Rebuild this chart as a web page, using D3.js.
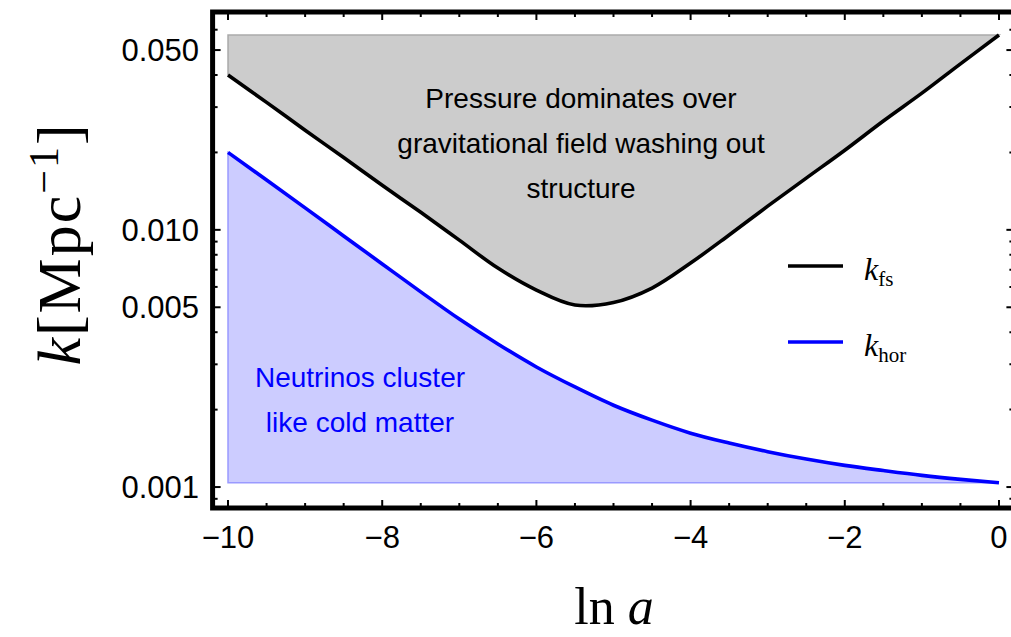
<!DOCTYPE html>
<html>
<head>
<meta charset="utf-8">
<script src="https://cdn.jsdelivr.net/npm/d3@7"></script>
<style>
  body { margin: 0; background: #fff; }
  svg { display: block; }
  .sans { font-family: "Liberation Sans", Arial, sans-serif; }
  .serif { font-family: "Liberation Serif", "DejaVu Serif", serif; }
</style>
</head>
<body>
<div id="chart"></div>
<script>
// donnees
const lnA  = [-10, -9.5, -9, -8.5, -8, -7.5, -7, -6.5, -6, -5.5, -5, -4.5, -4, -3.5, -3, -2.5, -2, -1.5, -1, -0.5, 0];
const kFs  = [0.0400, 0.0313, 0.0244, 0.0191, 0.0149, 0.0117, 0.00912, 0.00710, 0.00583, 0.00510, 0.00522, 0.00594, 0.00743, 0.00955, 0.01236, 0.01589, 0.0204, 0.0265, 0.0340, 0.0442, 0.0572];
const kHor = [0.0200, 0.01562, 0.01217, 0.00947, 0.00737, 0.00574, 0.00450, 0.00360, 0.00293, 0.00245, 0.00208, 0.00182, 0.00162, 0.001483, 0.001373, 0.001285, 0.001214, 0.001159, 0.001110, 0.001071, 0.001039];

const xTicks = [-10, -8, -6, -4, -2, 0];
const xTickLabels = ["\u221210", "\u22128", "\u22126", "\u22124", "\u22122", "0"];
const xMinor = [-9.5, -9, -8.5, -7.5, -7, -6.5, -5.5, -5, -4.5, -3.5, -3, -2.5, -1.5, -1, -0.5];
const yTicks = [0.001, 0.005, 0.01, 0.05];
const yTickLabels = ["0.001", "0.005", "0.010", "0.050"];
const yMinor = [0.0009, 0.002, 0.003, 0.004, 0.006, 0.007, 0.008, 0.009, 0.02, 0.03, 0.04, 0.06, 0.07];

const legendNames = ["fs", "hor"];
const legendColors = ["#000000", "#0000ff"];
const textGray = ["Pressure dominates over", "gravitational field washing out", "structure"];
const textBlue = ["Neutrinos cluster", "like cold matter"];

const width = 1011, height = 637;

const svg = d3.select('#chart').append('svg')
  .attr('width', width)
  .attr('height', height);

// echelles (marge de 2% comme mathematica)
const x = d3.scaleLinear().domain([-10.2, 0.2]).range([212.6, 1014.4]);
const y = d3.scaleLog().domain([0.000829, 0.0703]).range([508, 12]);

const pts = lnA.map((a, i) => ({ a, fs: kFs[i], hor: kHor[i] }));

// zone grise
const areaFs = d3.area()
  .x(d => x(d.a))
  .y0(y(d3.max(kFs)))
  .y1(d => y(d.fs))
  .curve(d3.curveCatmullRom);
svg.append('path')
  .datum(pts)
  .attr('d', areaFs)
  .attr('fill', '#cccccc')
  .attr('stroke', '#aaaaaa')
  .attr('stroke-width', 1.5);

// zone bleue
const areaHor = d3.area()
  .x(d => x(d.a))
  .y0(y(d3.min(kHor)))
  .y1(d => y(d.hor))
  .curve(d3.curveMonotoneX);
svg.append('path')
  .datum(pts)
  .attr('d', areaHor)
  .attr('fill', '#ccccff')
  .attr('stroke', '#9a9aff')
  .attr('stroke-width', 1.5);

// courbes
const lineFs = d3.line().x(d => x(d.a)).y(d => y(d.fs)).curve(d3.curveCatmullRom);
const lineHor = d3.line().x(d => x(d.a)).y(d => y(d.hor)).curve(d3.curveMonotoneX);
svg.append('path').datum(pts).attr('d', lineFs)
  .attr('fill', 'none').attr('stroke', '#000').attr('stroke-width', 3.6);
svg.append('path').datum(pts).attr('d', lineHor)
  .attr('fill', 'none').attr('stroke', '#0000ff').attr('stroke-width', 3.6);

// cadre
const x0 = x.range()[0], x1 = x.range()[1];
const yb = y.range()[0], yt = y.range()[1];
svg.append('rect')
  .attr('x', x0).attr('y', yt)
  .attr('width', x1 - x0).attr('height', yb - yt)
  .attr('fill', 'none').attr('stroke', '#000').attr('stroke-width', 5);

// graduations
const ticks = svg.append('g').attr('stroke', '#000').attr('stroke-width', 2);
function xTick(v, len) {
  ticks.append('line').attr('x1', x(v)).attr('x2', x(v)).attr('y1', yb).attr('y2', yb - len);
  ticks.append('line').attr('x1', x(v)).attr('x2', x(v)).attr('y1', yt).attr('y2', yt + len);
}
function yTick(v, len) {
  ticks.append('line').attr('y1', y(v)).attr('y2', y(v)).attr('x1', x0).attr('x2', x0 + len);
  ticks.append('line').attr('y1', y(v)).attr('y2', y(v)).attr('x1', x1).attr('x2', x1 - len);
}
xTicks.forEach(v => xTick(v, 8));
xMinor.forEach(v => xTick(v, 5));
yTicks.forEach(v => yTick(v, 8));
yMinor.forEach(v => yTick(v, 5));

// labels des graduations
svg.append('g').selectAll('text')
  .data(xTicks)
  .enter()
  .append('text')
  .attr('class', 'sans')
  .attr('x', d => x(d))
  .attr('y', 548)
  .attr('text-anchor', 'middle')
  .attr('font-size', '31px')
  .text((d, i) => xTickLabels[i]);

svg.append('g').selectAll('text')
  .data(yTicks)
  .enter()
  .append('text')
  .attr('class', 'sans')
  .attr('x', 199)
  .attr('y', d => y(d))
  .attr('dy', '0.36em')
  .attr('text-anchor', 'end')
  .attr('font-size', '31px')
  .text((d, i) => yTickLabels[i]);

// titres des axes
const xl = svg.append('text')
  .attr('class', 'serif')
  .attr('x', 614)
  .attr('y', 624)
  .attr('text-anchor', 'middle')
  .attr('font-size', '52px');
xl.append('tspan').text('ln ');
xl.append('tspan').attr('font-style', 'italic').text('a');

const yl = svg.append('text')
  .attr('class', 'serif')
  .attr('transform', 'translate(80, 244) rotate(-90)')
  .attr('text-anchor', 'middle')
  .attr('letter-spacing', '2px')
  .attr('font-size', '62px');
yl.append('tspan').attr('font-style', 'italic').text('k');
yl.append('tspan').text('[Mpc');
yl.append('tspan').attr('font-size', '42px').attr('dy', '-22').text('\u22121');
yl.append('tspan').attr('dy', '22').text(']');

// annotations
svg.append('g').selectAll('text')
  .data(textGray)
  .enter()
  .append('text')
  .attr('class', 'sans')
  .attr('x', 581)
  .attr('y', (d, i) => 108 + i * 45)
  .attr('text-anchor', 'middle')
  .attr('font-size', '28px')
  .attr('fill', '#000')
  .text(d => d);

svg.append('g').selectAll('text')
  .data(textBlue)
  .enter()
  .append('text')
  .attr('class', 'sans')
  .attr('x', 360)
  .attr('y', (d, i) => 387 + i * 45)
  .attr('text-anchor', 'middle')
  .attr('font-size', '28px')
  .attr('fill', '#0000ff')
  .text(d => d);

// legende
const leg = svg.append('g');
legendNames.forEach((name, i) => {
  const ly = 266 + i * 76;
  leg.append('line')
    .attr('x1', 788).attr('x2', 843)
    .attr('y1', ly).attr('y2', ly)
    .attr('stroke', legendColors[i]).attr('stroke-width', 3.6);
  const t = leg.append('text')
    .attr('class', 'serif')
    .attr('x', 864)
    .attr('y', ly + 14)
    .attr('font-size', '32px');
  t.append('tspan').attr('font-style', 'italic').text('k');
  t.append('tspan').attr('font-size', '21px').attr('dy', '6').text(name);
});
</script>
</body>
</html>
